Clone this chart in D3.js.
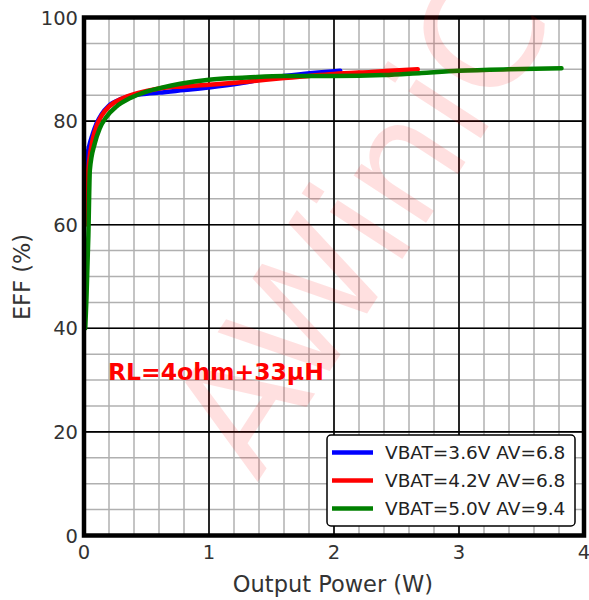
<!DOCTYPE html>
<html><head><meta charset="utf-8">
<script src="https://cdn.jsdelivr.net/npm/d3@7/dist/d3.min.js"></script>
<style>body{margin:0;background:#fff}svg{display:block}</style>
</head><body>
<svg id="c" width="589" height="600"></svg>
<script>
const xTicks = [0, 1, 2, 3, 4];
const yTicks = [0, 20, 40, 60, 80, 100];
const seriesNames = ["VBAT=3.6V AV=6.8", "VBAT=4.2V AV=6.8", "VBAT=5.0V AV=9.4"];
const seriesColors = ["#0000ff", "#ff0000", "#008000"];
const blueX = [0.01,0.02,0.04,0.07,0.1,0.14,0.2,0.3,0.4,0.5,0.6,0.8,1.0,1.25,1.5,1.75,2.05];
const blueY = [65,72,75,77.5,79.5,81.3,83.0,84.3,85.0,85.3,85.5,86.0,86.5,87.3,88.4,89.1,89.7];
const redX = [0.01,0.02,0.04,0.07,0.1,0.14,0.2,0.3,0.4,0.5,0.6,0.8,1.0,1.3,1.6,2.0,2.3,2.67];
const redY = [60,66,72,76.5,79,81,82.8,84.3,85.2,85.8,86.3,86.7,87.0,87.6,88.3,89.1,89.5,90.0];
const greenX = [0.01,0.02,0.035,0.047,0.086,0.126,0.179,0.259,0.366,0.5,0.63,0.77,1.0,1.3,1.6,2.0,2.4,2.7,3.0,3.4,3.82];
const greenY = [40,46,58,70.6,75.7,78.6,80.8,82.8,84.4,85.7,86.5,87.2,88.0,88.4,88.7,88.7,88.9,89.3,89.7,90.0,90.2];
const annotation = "RL=4ohm+33μH";
const watermark = "AWiniC";

const svg = d3.select("#c");
const L = 84, R = 584, T = 17.5, B = 535.5;
const x = d3.scaleLinear().domain([0, 4]).range([L, R]);
const y = d3.scaleLinear().domain([0, 100]).range([B, T]);

// minor grid
const g = svg.append("g");
g.selectAll(".mx").data(d3.range(0, 4.001, 0.2)).enter().append("line")
  .attr("x1", d => x(d)).attr("x2", d => x(d)).attr("y1", T).attr("y2", B)
  .attr("stroke", "#b0b0b0").attr("stroke-width", 1.5);
g.selectAll(".my").data(d3.range(0, 100.001, 5)).enter().append("line")
  .attr("x1", L).attr("x2", R).attr("y1", d => y(d)).attr("y2", d => y(d))
  .attr("stroke", "#b0b0b0").attr("stroke-width", 1.5);
// major grid
g.selectAll(".Mx").data(xTicks).enter().append("line")
  .attr("x1", d => x(d)).attr("x2", d => x(d)).attr("y1", T).attr("y2", B)
  .attr("stroke", "#000").attr("stroke-width", 1.6);
g.selectAll(".My").data(yTicks).enter().append("line")
  .attr("x1", L).attr("x2", R).attr("y1", d => y(d)).attr("y2", d => y(d))
  .attr("stroke", "#000").attr("stroke-width", 1.6);

// curves
const data = [[blueX, blueY], [redX, redY], [greenX, greenY]];
const line = d3.line().x(d => x(d[0])).y(d => y(d[1])).curve(d3.curveMonotoneX);
data.forEach((s, i) => {
  const pts = s[0].map((v, j) => [v, s[1][j]]);
  svg.append("path").attr("d", line(pts)).attr("fill", "none")
    .attr("stroke", seriesColors[i]).attr("stroke-width", 4.5)
    .attr("stroke-linejoin", "round").attr("stroke-linecap", "round");
});

// frame
svg.append("rect").attr("x", L).attr("y", T).attr("width", R - L).attr("height", B - T)
  .attr("fill", "none").attr("stroke", "#000").attr("stroke-width", 4.5);

// ticks
const font = "DejaVu Sans, sans-serif";
svg.selectAll(".xt").data(xTicks).enter().append("text")
  .attr("x", d => x(d)).attr("y", B + 23).attr("text-anchor", "middle")
  .attr("font-family", font).attr("font-size", 19.5).attr("fill", "#333").text(d => d);
svg.selectAll(".yt").data(yTicks).enter().append("text")
  .attr("x", L - 6).attr("y", d => y(d) + 7).attr("text-anchor", "end")
  .attr("font-family", font).attr("font-size", 19.5).attr("fill", "#333").text(d => d);

svg.append("text").attr("x", 333).attr("y", 592).attr("text-anchor", "middle")
  .attr("font-family", font).attr("font-size", 22.5).attr("fill", "#333").text("Output Power (W)");
svg.append("text").attr("transform", "translate(30,277) rotate(-90)").attr("text-anchor", "middle")
  .attr("font-family", font).attr("font-size", 22.5).attr("fill", "#333").text("EFF (%)");

// annotation
svg.append("text").attr("x", 108).attr("y", 380).attr("font-family", font)
  .attr("font-weight", "bold").attr("font-size", 23.5).attr("fill", "#ff0000").text(annotation);

// legend
const lg = svg.append("g");
lg.append("rect").attr("x", 327).attr("y", 435).attr("width", 248).attr("height", 91)
  .attr("rx", 4).attr("fill", "#fff").attr("stroke", "#000").attr("stroke-width", 1.5);
seriesNames.forEach((n, i) => {
  const yy = 452.5 + i * 28;
  lg.append("line").attr("x1", 332).attr("x2", 373).attr("y1", yy).attr("y2", yy)
    .attr("stroke", seriesColors[i]).attr("stroke-width", 4.5);
  lg.append("text").attr("x", 385).attr("y", yy + 6.5).attr("font-family", font)
    .attr("font-size", 18.5).attr("fill", "#222").text(n);
});

// watermark
svg.append("text").attr("transform", "translate(257,483) rotate(-57)")
  .attr("font-family", font).attr("font-size", 158).attr("fill", "rgba(255,0,0,0.12)")
  .text(watermark);
</script>
</body></html>
